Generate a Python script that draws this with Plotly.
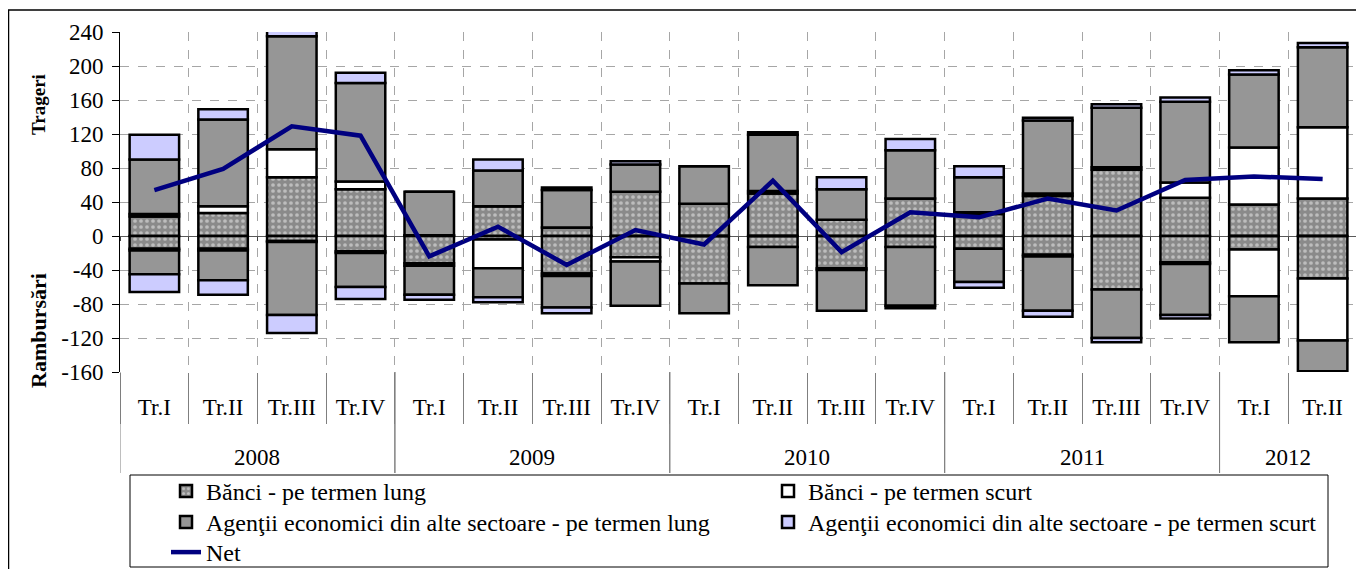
import plotly.graph_objects as go

# quarters 2008 - 2012 (mil. USD)
years = ["2008", "2008", "2008", "2008", "2009", "2009", "2009", "2009",
         "2010", "2010", "2010", "2010", "2011", "2011", "2011", "2011",
         "2012", "2012"]
quarters = ["Tr.I", "Tr.II", "Tr.III", "Tr.IV", "Tr.I", "Tr.II", "Tr.III", "Tr.IV",
            "Tr.I", "Tr.II", "Tr.III", "Tr.IV", "Tr.I", "Tr.II", "Tr.III", "Tr.IV",
            "Tr.I", "Tr.II"]

# Trageri (drawings)
banci_lung_tr = [23, 27, 69, 55, 1, 35, 10, 52, 38, 50, 19, 44, 26, 47, 78, 45, 37, 44]
banci_scurt_tr = [3, 8, 33, 9, 0, 0, 0, 0, 0, 3, 0, 0, 2, 3, 3, 18, 67, 84]
agenti_lung_tr = [64, 102, 133, 116, 51, 42, 44, 32, 44, 66, 36, 57, 41, 86, 70, 95, 86, 94]
agenti_scurt_tr = [29, 12, 7, 12, 0, 13, 3, 4, 0, 3, 14, 13, 13, 3, 4, 5, 5, 5]

# Rambursari (repayments)
banci_lung_rb = [-15, -15, -6, -18, -32, -4, -44, -25, -56, -13, -38, -13, -15, -22, -63, -31, -16, -50]
banci_scurt_rb = [-2, -2, -1, -2, -3, -34, -3, -5, 0, 0, -2, 0, 0, -2, 0, -2, -55, -73]
agenti_lung_rb = [-28, -35, -86, -40, -34, -34, -37, -52, -35, -45, -48, -69, -39, -64, -57, -60, -54, -36]
agenti_scurt_rb = [-21, -17, -21, -14, -6, -6, -7, 0, 0, 0, 0, -3, -7, -7, -5, -4, 0, 0]

net = [54, 79, 129, 118, -24, 11, -34, 7, -10, 65, -19, 28, 22, 44, 30, 66, 70, 67]

y_ticks = [-160, -120, -80, -40, 0, 40, 80, 120, 160, 200, 240]

names = ["Bănci - pe termen lung", "Bănci - pe termen scurt",
         "Agenţii economici din alte sectoare - pe termen lung",
         "Agenţii economici din alte sectoare - pe termen scurt"]

# the page body adds an 8px margin, so the figure is shifted by OFF
OFF = 8
W, H = 1364 - OFF, 569 - OFF
ML, MR, MT, MB = 120 - OFF, 7, 32 - OFF, 197
PW, PH = W - ML - MR, H - MT - MB
FONT = "Liberation Serif, Times New Roman, serif"


def px_x(px):
    # screen pixel -> paper fraction
    return (px - OFF - ML) / PW


def px_y(py):
    return (H - MB - (py - OFF)) / PH


flat = [f"{y} {q}" for y, q in zip(years, quarters)]

styles = [
    dict(color="#8c8c8c", pattern=dict(shape=".", fgcolor="#f0f0f0", bgcolor="#8a8a8a",
                                       size=6, solidity=0.3, fillmode="overlay")),
    dict(color="white"),
    dict(color="#969696"),
    dict(color="#ccccff"),
]
# one legend per entry so the 2-column grid can be placed exactly
legends = ["legend", "legend2", "legend3", "legend4"]

fig = go.Figure()

pos = [banci_lung_tr, banci_scurt_tr, agenti_lung_tr, agenti_scurt_tr]
neg = [banci_lung_rb, banci_scurt_rb, agenti_lung_rb, agenti_scurt_rb]

for name, vals, st, lg in zip(names, pos, styles, legends):
    fig.add_trace(go.Bar(
        x=flat, y=vals, name=name, legend=lg, legendgroup=name,
        marker=dict(line=dict(color="black", width=2.5), **st),
        xaxis="x", yaxis="y",
    ))

for name, vals, st in zip(names, neg, styles):
    fig.add_trace(go.Bar(
        x=flat, y=vals, name=name, legendgroup=name, showlegend=False,
        marker=dict(line=dict(color="black", width=2.5), **st),
        xaxis="x2", yaxis="y",
    ))

fig.add_trace(go.Scatter(
    x=flat, y=net, name="Net", mode="lines", legend="legend5",
    line=dict(color="#000080", width=4.5),
    xaxis="x3", yaxis="y",
))

xrange = [-0.5, len(flat) - 0.5]
legend_font = dict(family=FONT, size=24, color="black")


def legend_at(left, top):
    return dict(x=px_x(left), y=px_y(top), xanchor="left", yanchor="top",
                bgcolor="rgba(0,0,0,0)", borderwidth=0, font=legend_font)


fig.update_layout(
    width=W, height=H,
    margin=dict(l=ML, r=MR, t=MT, b=MB, autoexpand=False),
    paper_bgcolor="white", plot_bgcolor="white",
    font=dict(family=FONT, size=23, color="black"),
    barmode="relative", bargap=0.28,
    xaxis=dict(
        type="category", range=xrange,
        tickmode="array", tickvals=flat, ticktext=quarters,
        ticks="outside", ticklen=51, tickcolor="#7f7f7f", tickson="boundaries",
        ticklabelstandoff=19,
        showgrid=True, gridcolor="#a6a6a6", griddash="dash", gridwidth=1,
        tickfont=dict(family=FONT, size=23, color="black"),
    ),
    xaxis2=dict(
        type="category", overlaying="x", anchor="y", side="bottom", range=xrange,
        showticklabels=False, ticks="", showgrid=False,
    ),
    xaxis3=dict(
        type="category", overlaying="x", anchor="free", position=0.4, side="bottom",
        range=xrange, showticklabels=False, ticks="outside", ticklen=4,
        tickcolor="#404040", tickson="boundaries", showgrid=False,
    ),
    yaxis=dict(
        range=[-160, 240], tickmode="array", tickvals=y_ticks,
        ticktext=[str(v) for v in y_ticks],
        ticks="outside", ticklen=7, tickcolor="black", ticklabelstandoff=4,
        showline=True, linecolor="black", linewidth=1,
        showgrid=True, gridcolor="#a6a6a6", griddash="dash", gridwidth=1,
        zeroline=True, zerolinecolor="#595959", zerolinewidth=1,
        tickfont=dict(family=FONT, size=23, color="black"),
    ),
    legend=legend_at(166, 469),
    legend2=legend_at(768, 469),
    legend3=legend_at(166, 500),
    legend4=legend_at(768, 500),
    legend5=legend_at(166, 530),
    showlegend=True,
)

# year row: labels centred on each year's quarters, dividers at year boundaries
year_list = list(dict.fromkeys(years))
for yr in year_list:
    idx = [i for i, v in enumerate(years) if v == yr]
    fig.add_annotation(text=yr, xref="x", yref="paper",
                       x=sum(idx) / len(idx), y=px_y(457),
                       xanchor="center", yanchor="middle", showarrow=False,
                       font=dict(family=FONT, size=23, color="black"))
    for b in (idx[0] - 0.5, idx[-1] + 0.5):
        fig.add_shape(type="line", xref="x", yref="paper",
                      x0=b, x1=b, y0=px_y(372), y1=px_y(473),
                      line=dict(color="#7f7f7f", width=1))

# outer frame and legend box
fig.add_shape(type="rect", xref="paper", yref="paper",
              x0=px_x(8.5), x1=px_x(1358), y0=px_y(575), y1=px_y(10),
              line=dict(color="black", width=1.5), layer="below")
fig.add_shape(type="rect", xref="paper", yref="paper",
              x0=px_x(130), x1=px_x(1328), y0=px_y(567), y1=px_y(475),
              line=dict(color="black", width=1), layer="below")

fig.add_annotation(text="<b>Trageri</b>", xref="paper", yref="paper",
                   x=px_x(38), y=px_y(105), textangle=-90, showarrow=False,
                   xanchor="center", yanchor="middle",
                   font=dict(family=FONT, size=19, color="black"))
fig.add_annotation(text="<b>Rambursări</b>", xref="paper", yref="paper",
                   x=px_x(38), y=px_y(331), textangle=-90, showarrow=False,
                   xanchor="center", yanchor="middle",
                   font=dict(family=FONT, size=22, color="black"))

fig.write_html("out.html")
